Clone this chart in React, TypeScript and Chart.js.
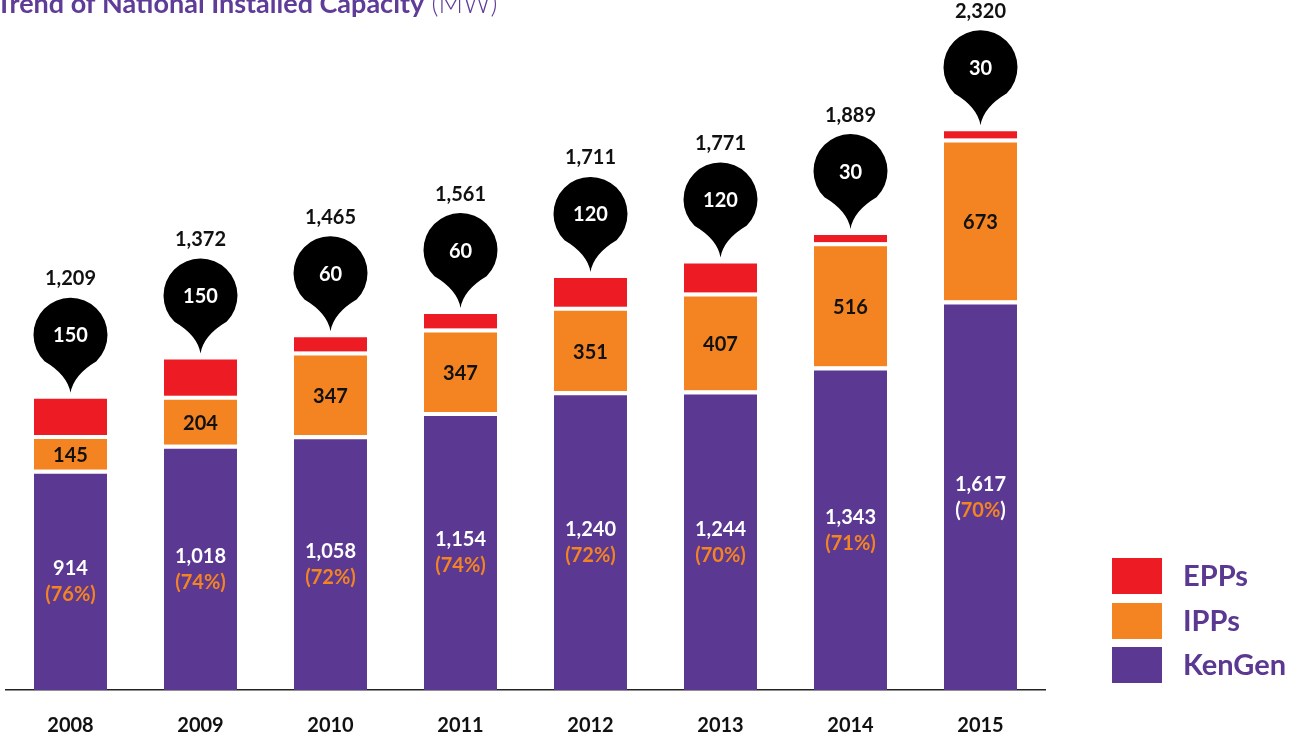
import React, { useEffect, useRef } from 'react';
import { Chart, registerables } from 'chart.js';

Chart.register(...registerables);

const years = ['2008', '2009', '2010', '2011', '2012', '2013', '2014', '2015'];
const kengen = [914, 1018, 1058, 1154, 1240, 1244, 1343, 1617];
const ipps = [145, 204, 347, 347, 351, 407, 516, 673];
const epps = [150, 150, 60, 60, 120, 120, 30, 30];
const totals = [1209, 1372, 1465, 1561, 1711, 1771, 1889, 2320];
const kengenShare = [76, 74, 72, 74, 72, 70, 71, 70];
const shareParenWhite = [false, false, false, false, false, false, false, true];
const legendLabels = ['EPPs', 'IPPs', 'KenGen'];

const RED = '#ED1C24';
const ORANGE = '#F38421';
const PURPLE = '#5B3892';
const TITLE_PURPLE = '#5E3C98';
const FONT = 'Lato, "Open Sans", sans-serif';
const GAP = 4;

const fmt = (v: number) => v.toLocaleString('en-US');

export default function App() {
  const ref = useRef<HTMLCanvasElement>(null);

  useEffect(() => {
    const canvas = ref.current!;

    const overlay = {
      id: 'overlay',
      afterDatasetsDraw(chart: any) {
        const ctx = chart.ctx as CanvasRenderingContext2D;
        const mK = chart.getDatasetMeta(0);
        const mI = chart.getDatasetMeta(1);
        const mE = chart.getDatasetMeta(2);
        ctx.save();
        ctx.textBaseline = 'middle';
        years.forEach((_, i) => {
          const k: any = mK.data[i];
          const ip: any = mI.data[i];
          const e: any = mE.data[i];
          ctx.font = `bold 20px ${FONT}`;
          // IPP value
          ctx.textAlign = 'center';
          ctx.fillStyle = '#111';
          ctx.fillText(String(ipps[i]), ip.x, (ip.y + GAP + ip.base) / 2 + 1);
          // KenGen value + share
          const mid = (k.y + GAP + k.base) / 2;
          ctx.fillStyle = '#fff';
          ctx.fillText(fmt(kengen[i]), k.x, mid - 13);
          const pct = `${kengenShare[i]}%`;
          const wl = ctx.measureText('(').width;
          const wp = ctx.measureText(pct).width;
          const wr = ctx.measureText(')').width;
          const x0 = k.x - (wl + wp + wr) / 2;
          ctx.textAlign = 'left';
          const parenColor = shareParenWhite[i] ? '#fff' : ORANGE;
          ctx.fillStyle = parenColor;
          ctx.fillText('(', x0, mid + 13);
          ctx.fillStyle = ORANGE;
          ctx.fillText(pct, x0 + wl, mid + 13);
          ctx.fillStyle = parenColor;
          ctx.fillText(')', x0 + wl + wp, mid + 13);
          // pin
          const x = e.x;
          const tipY = e.y - 6;
          const r = 37;
          const cy = tipY - 58;
          const a = 0.78;
          ctx.fillStyle = '#000';
          ctx.beginPath();
          ctx.arc(x, cy, r, Math.PI / 2 + a, Math.PI / 2 - a + 2 * Math.PI, false);
          ctx.quadraticCurveTo(x + 3, tipY - 18, x, tipY);
          ctx.quadraticCurveTo(x - 3, tipY - 18, x - r * Math.sin(a), cy + r * Math.cos(a));
          ctx.closePath();
          ctx.fill();
          ctx.textAlign = 'center';
          ctx.fillStyle = '#fff';
          ctx.fillText(String(epps[i]), x, cy + 1);
          ctx.fillStyle = '#111';
          ctx.fillText(fmt(totals[i]), x, cy - r - 19);
        });
        ctx.restore();
      },
      afterDraw(chart: any) {
        const ctx = chart.ctx as CanvasRenderingContext2D;
        ctx.save();
        // title
        ctx.textBaseline = 'alphabetic';
        ctx.textAlign = 'left';
        ctx.fillStyle = TITLE_PURPLE;
        ctx.font = `bold 27px ${FONT}`;
        const t1 = 'Trend of National Installed Capacity';
        ctx.fillText(t1, -4, 13);
        const w1 = ctx.measureText(t1).width;
        ctx.font = `300 27px ${FONT}`;
        ctx.fillText(' (MW)', -4 + w1, 13);
        // legend
        const colors = [RED, ORANGE, PURPLE];
        const ys = [558, 603, 647];
        ctx.textBaseline = 'middle';
        ctx.font = `bold 29px ${FONT}`;
        legendLabels.forEach((lab, j) => {
          ctx.fillStyle = colors[j];
          ctx.fillRect(1112, ys[j], 50, 36);
          ctx.fillStyle = PURPLE;
          ctx.fillText(lab, 1183, ys[j] + 19);
        });
        ctx.restore();
      },
    };

    const chart = new Chart(canvas, {
      type: 'bar',
      data: {
        labels: years,
        datasets: [
          {
            label: 'KenGen',
            data: kengen,
            backgroundColor: PURPLE,
            borderColor: '#fff',
            borderWidth: { top: GAP, right: 0, bottom: 0, left: 0 },
            borderSkipped: false,
          },
          {
            label: 'IPPs',
            data: ipps,
            backgroundColor: ORANGE,
            borderColor: '#fff',
            borderWidth: { top: GAP, right: 0, bottom: 0, left: 0 },
            borderSkipped: false,
          },
          {
            label: 'EPPs',
            data: epps,
            backgroundColor: RED,
            borderWidth: 0,
          },
        ],
      },
      options: {
        responsive: false,
        animation: false,
        devicePixelRatio: 1,
        layout: { padding: { left: 5.5, right: 248.5, top: 0, bottom: 0 } },
        datasets: { bar: { barPercentage: 0.5615, categoryPercentage: 1, inflateAmount: 0 } },
        plugins: {
          legend: { display: false },
          title: { display: false },
          tooltip: { enabled: false },
        },
        scales: {
          x: {
            stacked: true,
            grid: { display: false, drawTicks: false },
            border: { display: true, color: '#222', width: 1.5 },
            ticks: {
              color: '#111',
              font: { family: FONT, size: 20, weight: 'bold' },
              padding: 24,
              maxRotation: 0,
            },
            afterFit(scale: any) {
              scale.height = 48;
            },
          },
          y: {
            stacked: true,
            display: false,
            min: 0,
            max: 2865,
          },
        },
      },
      plugins: [overlay],
    } as any);

    return () => chart.destroy();
  }, []);

  return (
    <div style={{ position: 'fixed', left: 0, top: 0, width: 1294, height: 738, background: '#fff' }}>
      <canvas ref={ref} width={1294} height={738} style={{ display: 'block', width: 1294, height: 738 }} />
    </div>
  );
}
